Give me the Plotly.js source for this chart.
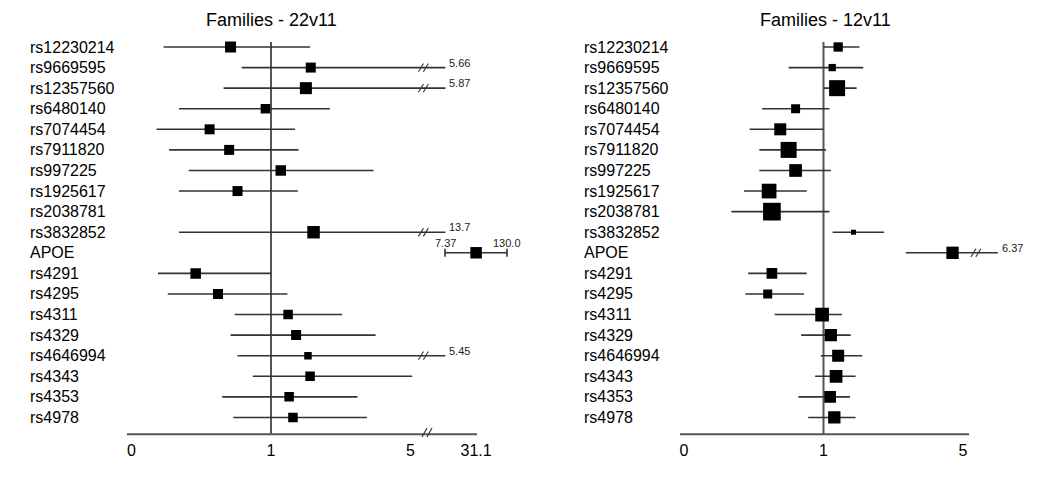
<!DOCTYPE html>
<html><head><meta charset="utf-8">
<script src="https://cdn.plot.ly/plotly-3.0.1.min.js"></script>
<style>html,body{margin:0;padding:0;background:#fff}</style>
</head><body><div id="chart" style="width:1050px;height:503px"></div>
<script>
// ---------------- data ----------------
const snps = ['rs12230214','rs9669595','rs12357560','rs6480140','rs7074454','rs7911820','rs997225','rs1925617','rs2038781','rs3832852','APOE','rs4291','rs4295','rs4311','rs4329','rs4646994','rs4343','rs4353','rs4978'];

const titleLeft = 'Families - 22v11';
const orLeft = [0.71, 2.14, 2.00, 0.96, 0.56, 0.70, 1.28, 0.76, null, 2.22, 31.1, 0.46, 0.62, 1.49, 1.72, 2.06, 2.12, 1.52, 1.63];
const loLeft = [0.23, 0.79, 0.66, 0.34, 0.18, 0.27, 0.41, 0.34, null, 0.34, 7.37, 0.19, 0.26, 0.74, 0.71, 0.76, 0.87, 0.65, 0.73];
const hiLeft = [2.12, 5.66, 5.87, 2.69, 1.69, 1.79, 3.94, 1.77, null, 13.7, 130.0, 1.00, 1.47, 3.04, 4.00, 5.45, 5.05, 3.48, 3.75];
const weightLeft = [11, 10, 12, 9.5, 10, 10, 10.5, 10, null, 12.5, 11.5, 10.5, 10, 9.5, 10, 7.5, 9.5, 9.5, 9.5];

const titleRight = 'Families - 12v11';
const orRight = [1.42, 1.25, 1.39, 0.80, 0.69, 0.75, 0.80, 0.61, 0.63, 1.86, 4.70, 0.63, 0.60, 0.99, 1.21, 1.42, 1.36, 1.19, 1.31];
const loRight = [1.01, 0.75, 1.00, 0.56, 0.47, 0.54, 0.54, 0.43, 0.34, 1.26, 3.36, 0.46, 0.44, 0.65, 0.84, 0.98, 0.94, 0.82, 0.89];
const hiRight = [2.03, 2.14, 1.95, 1.17, 1.00, 1.07, 1.21, 0.88, 1.17, 2.74, 6.37, 0.88, 0.86, 1.53, 1.78, 2.11, 1.92, 1.76, 1.92];
const weightRight = [9.3, 7.3, 16, 9, 12, 16, 12.7, 14.7, 17.7, 5, 12.3, 10.7, 9, 13.7, 12.3, 12, 12.7, 11.7, 12.3];

const axisTicks = [0, 1, 5];

// ---------------- layout constants ----------------
const W = 1050, H = 503;
const FONT = 'Liberation Sans, Arial, Helvetica, sans-serif';
const LINE = '#333';
const AXIS_Y = 434.3, ROW0 = 47, ROWH = 20.58, UNIT = 139.5;
const ORIGIN_L = 131.5, ORIGIN_R = 684;
const T_CUT = 2.25, T_SLASH = 2.075, T_LABEL = 2.265, TRUNC_AT = 5.2;
const apoeIdx = snps.indexOf('APOE');

function tr(v){ return v == null ? null : (v <= 1 ? v : 1 + (v - 1) / 4); }
function fmt(v){ return v >= 100 ? v.toFixed(1) : String(Number(v.toPrecision(3))); }
const yTopIdx = -ROW0 / ROWH, yBotIdx = (AXIS_Y - ROW0) / ROWH;
const yDomLow = 1 - AXIS_Y / H;
const px2p = px => px / W, py2p = py => 1 - py / H;

const shapes = [], annotations = [];

function panel(or, lo, hi, w, xa, skip){
  const x = [], arr = [], arrm = [];
  for (let i = 0; i < snps.length; i++){
    if (or[i] == null || skip.includes(i)){ x.push(null); arr.push(0); arrm.push(0); continue; }
    const tp = tr(or[i]);
    const trunc = hi[i] > TRUNC_AT;
    const tu = trunc ? T_CUT : tr(hi[i]);
    x.push(tp); arr.push(tu - tp); arrm.push(tp - tr(lo[i]));
    if (trunc){
      for (const off of [0, 0.035]){
        shapes.push({type:'line', xref:xa, yref:'y', layer:'above',
          x0:T_SLASH + off - 0.018, x1:T_SLASH + off + 0.018, y0:i + 0.2, y1:i - 0.2,
          line:{color:LINE, width:1.1}});
      }
      annotations.push({xref:xa, yref:'y', x:T_LABEL, y:snps[i], text:fmt(hi[i]),
        xanchor:'left', yanchor:'middle', yshift:5, showarrow:false,
        font:{family:FONT, size:11, color:'#222'}});
    }
  }
  return {type:'scatter', mode:'markers', x:x, y:snps, xaxis:xa, yaxis:'y',
    marker:{symbol:'square', size:w.map(v => v || 0), color:'#000', opacity:1, line:{width:0}},
    error_x:{type:'data', symmetric:false, array:arr, arrayminus:arrm, color:LINE, thickness:1.6, width:0},
    hoverinfo:'skip', showlegend:false};
}

const traceL = panel(orLeft, loLeft, hiLeft, weightLeft, 'x', [apoeIdx]);
const traceR = panel(orRight, loRight, hiRight, weightRight, 'x2', []);

// APOE (left) on its own log sub-scale beyond the axis break
const traceApoe = {type:'scatter', mode:'markers', x:[orLeft[apoeIdx]], y:[snps[apoeIdx]], xaxis:'x3', yaxis:'y',
  marker:{symbol:'square', size:weightLeft[apoeIdx], color:'#000', opacity:1, line:{width:0}},
  error_x:{type:'data', symmetric:false, array:[hiLeft[apoeIdx]-orLeft[apoeIdx]], arrayminus:[orLeft[apoeIdx]-loLeft[apoeIdx]],
    color:LINE, thickness:1.6, width:4},
  hoverinfo:'skip', showlegend:false};
for (const v of [loLeft[apoeIdx], hiLeft[apoeIdx]]){
  annotations.push({xref:'x3', yref:'y', x:Math.log10(v), y:snps[apoeIdx], text:fmt(v), xanchor:'center', yanchor:'middle',
    yshift:10, showarrow:false, font:{family:FONT, size:11, color:'#222'}});
}
// sub-scale: lower CI at px 445, upper at px 507
const SUB_PX0 = 445, SUB_PX1 = 507, SUB_D0 = 430, SUB_D1 = 524;
const k = (Math.log10(hiLeft[apoeIdx]) - Math.log10(loLeft[apoeIdx])) / (SUB_PX1 - SUB_PX0);
const x3range = [Math.log10(loLeft[apoeIdx]) - (SUB_PX0 - SUB_D0) * k, Math.log10(hiLeft[apoeIdx]) + (SUB_D1 - SUB_PX1) * k];

// row labels + titles
snps.forEach(s => {
  for (const xp of [28, 582]){
    annotations.push({xref:'paper', yref:'y', x:px2p(xp), y:s, text:s, xanchor:'left', yanchor:'middle',
      showarrow:false, font:{family:FONT, size:16, color:'#000'}});
  }
});
annotations.push({xref:'paper', yref:'paper', x:px2p(271), y:py2p(20), text:titleLeft, xanchor:'center', yanchor:'middle', showarrow:false, font:{family:FONT, size:18, color:'#000'}});
annotations.push({xref:'paper', yref:'paper', x:px2p(825), y:py2p(20), text:titleRight, xanchor:'center', yanchor:'middle', showarrow:false, font:{family:FONT, size:18, color:'#000'}});

// reference lines at 1 and the axis lines
for (const xa of ['x', 'x2']){
  shapes.push({type:'line', xref:xa, yref:'paper', x0:tr(1), x1:tr(1), y0:yDomLow, y1:py2p(42), layer:'below', line:{color:'#555', width:2}});
}
shapes.push({type:'line', xref:'paper', yref:'paper', x0:px2p(127), x1:px2p(477), y0:yDomLow, y1:yDomLow, layer:'below', line:{color:'#555', width:2}});
shapes.push({type:'line', xref:'paper', yref:'paper', x0:px2p(680), x1:px2p(969), y0:yDomLow, y1:yDomLow, layer:'below', line:{color:'#555', width:2}});
for (const off of [0, 5]){
  shapes.push({type:'line', xref:'paper', yref:'paper', x0:px2p(422 + off), x1:px2p(427 + off), y0:py2p(437), y1:py2p(428), layer:'above', line:{color:'#333', width:1.2}});
}

const xbase = {showgrid:false, zeroline:false, showline:false, ticks:'outside', ticklen:1, tickcolor:'rgba(0,0,0,0)',
  tickfont:{family:FONT, size:16, color:'#000'}, anchor:'y', fixedrange:true};

const layout = {
  width:W, height:H, autosize:false, margin:{l:0, r:0, t:0, b:0, pad:0},
  paper_bgcolor:'#fff', plot_bgcolor:'rgba(0,0,0,0)', showlegend:false,
  font:{family:FONT, color:'#000'},
  xaxis: Object.assign({}, xbase, {domain:[0, 0.5], range:[(0 - ORIGIN_L)/UNIT, (525 - ORIGIN_L)/UNIT],
    tickvals:axisTicks.map(tr), ticktext:axisTicks.map(String)}),
  xaxis2: Object.assign({}, xbase, {domain:[0.5, 1], range:[(525 - ORIGIN_R)/UNIT, (1050 - ORIGIN_R)/UNIT],
    tickvals:axisTicks.map(tr), ticktext:axisTicks.map(String)}),
  xaxis3: Object.assign({}, xbase, {type:'log', domain:[px2p(SUB_D0), px2p(SUB_D1)], range:x3range,
    tickvals:[orLeft[apoeIdx]], ticktext:[String(orLeft[apoeIdx])]}),
  yaxis: {domain:[yDomLow, 1], type:'category', categoryorder:'array', categoryarray:snps,
    range:[yBotIdx, yTopIdx], visible:false, fixedrange:true},
  shapes: shapes, annotations: annotations
};

Plotly.newPlot('chart', [traceL, traceApoe, traceR], layout, {staticPlot:true, displayModeBar:false});
</script>
</body></html>
